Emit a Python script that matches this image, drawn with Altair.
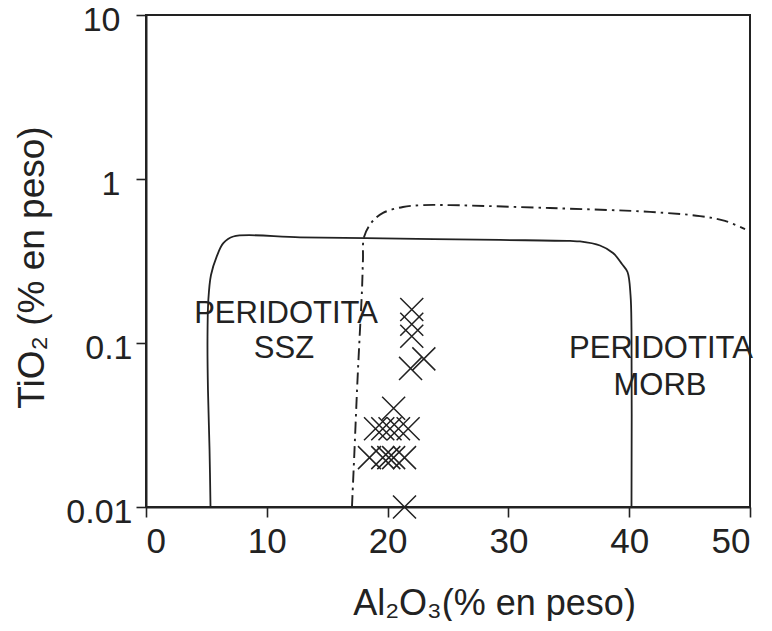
import altair as alt
import pandas as pd

# ---- data ----
x_ticks = [0, 10, 20, 30, 40, 50]
y_ticks = [0.01, 0.1, 1, 10]

# solid boundary (Al2O3, TiO2)
solid_x = [5.34, 5.26, 5.13, 5.09, 5.16, 5.38, 5.85, 6.40, 7.23, 12.75, 21.03, 29.30,
           35.10, 35.93, 37.58, 38.66, 39.40, 39.86, 40.11, 40.19, 40.19]
solid_y = [0.01, 0.0223, 0.0517, 0.104, 0.183, 0.260, 0.336, 0.406, 0.446, 0.441, 0.433, 0.425,
           0.419, 0.416, 0.393, 0.354, 0.303, 0.271, 0.196, 0.120, 0.01]

# dash-dot boundary
dash_x = [17.05, 17.26, 17.47, 17.67, 17.88, 17.96, 18.05, 18.71, 19.62, 21.27, 22.93,
          25.17, 33.44, 41.72, 45.86, 47.93, 49.59]
dash_y = [0.01, 0.0223, 0.0517, 0.104, 0.210, 0.321, 0.443, 0.547, 0.621, 0.675, 0.693,
          0.693, 0.665, 0.630, 0.594, 0.555, 0.495]

# samples
pts_x = [22.0, 22.0, 22.0, 23.0, 21.9, 20.5, 19.0, 19.6, 20.2, 20.9, 21.7,
         18.5, 19.6, 20.1, 20.5, 21.4, 21.4]
pts_y = [0.16, 0.13, 0.11, 0.08, 0.07, 0.04, 0.03, 0.03, 0.03, 0.03, 0.03,
         0.02, 0.02, 0.02, 0.02, 0.02, 0.01]

# field labels
lab_text = ["PERIDOTITA", "SSZ", "PERIDOTITA", "MORB"]
lab_x = [11.59, 11.42, 42.63, 42.55]
lab_y = [0.132, 0.081, 0.081, 0.0482]

FONT = "Liberation Sans"
INK = "#222222"

solid = pd.DataFrame({"x": solid_x, "y": solid_y, "i": list(range(len(solid_x)))})
dash = pd.DataFrame({"x": dash_x, "y": dash_y, "i": list(range(len(dash_x)))})
pts = pd.DataFrame({"x": pts_x, "y": pts_y})
labs = pd.DataFrame({"x": lab_x, "y": lab_y, "t": lab_text})

X = alt.X(
    "x:Q",
    scale=alt.Scale(domain=[0, 50], nice=False, zero=False),
    axis=alt.Axis(
        values=x_ticks, title="Al₂O₃(% en peso)", grid=False,
        labelFontSize=35, labelBaseline="alphabetic", labelPadding=35,
        tickSize=10, titleFontSize=36, titleX=348, titleY=107,
        titleAlign="center", titleBaseline="alphabetic",
    ),
)
Y = alt.Y(
    "y:Q",
    scale=alt.Scale(type="log", domain=[0.01, 10], nice=False),
    axis=alt.Axis(
        values=y_ticks, format="~g", title="TiO₂ (% en peso)", grid=False,
        labelFontSize=34, tickSize=10, labelBaseline="middle",
        labelPadding={"condition": {"test": "datum.value >= 1", "value": 16}, "value": 4},
        labelOffset=5,
        titleFontSize=37, titleAngle=270, titleX=-103, titleY=252,
        titleAlign="center", titleBaseline="alphabetic",
    ),
)

solid_line = alt.Chart(solid).mark_line(
    color=INK, strokeWidth=1.8, interpolate="catmull-rom"
).encode(x=X, y=Y, order="i:Q")

dash_line = alt.Chart(dash).mark_line(
    color=INK, strokeWidth=1.9, strokeDash=[12, 5, 2.5, 5], interpolate="catmull-rom"
).encode(x=X, y=Y, order="i:Q")

points = alt.Chart(pts).mark_point(
    shape="M-1,-1L1,1M-1,1L1,-1", size=530, filled=False, color=INK,
    strokeWidth=1.5, opacity=1,
).encode(x=X, y=Y)

texts = alt.Chart(labs).mark_text(
    font=FONT, fontSize=31, color=INK, align="center", baseline="alphabetic"
).encode(x=X, y=Y, text="t:N")

chart = alt.layer(solid_line, dash_line, points, texts).properties(
    width=604, height=492,
    autosize=alt.AutoSizeParams(type="none"),
    padding={"left": 138, "top": 7, "right": 10, "bottom": 114},
).configure_view(
    stroke=INK, strokeWidth=2
).configure_axis(
    labelFont=FONT, titleFont=FONT, labelColor=INK, titleColor=INK,
    titleFontWeight="normal", domainColor=INK, domainWidth=2,
    tickColor=INK, tickWidth=1.6,
)

chart.save("out.html", embed_options={"renderer": "svg", "actions": False})
